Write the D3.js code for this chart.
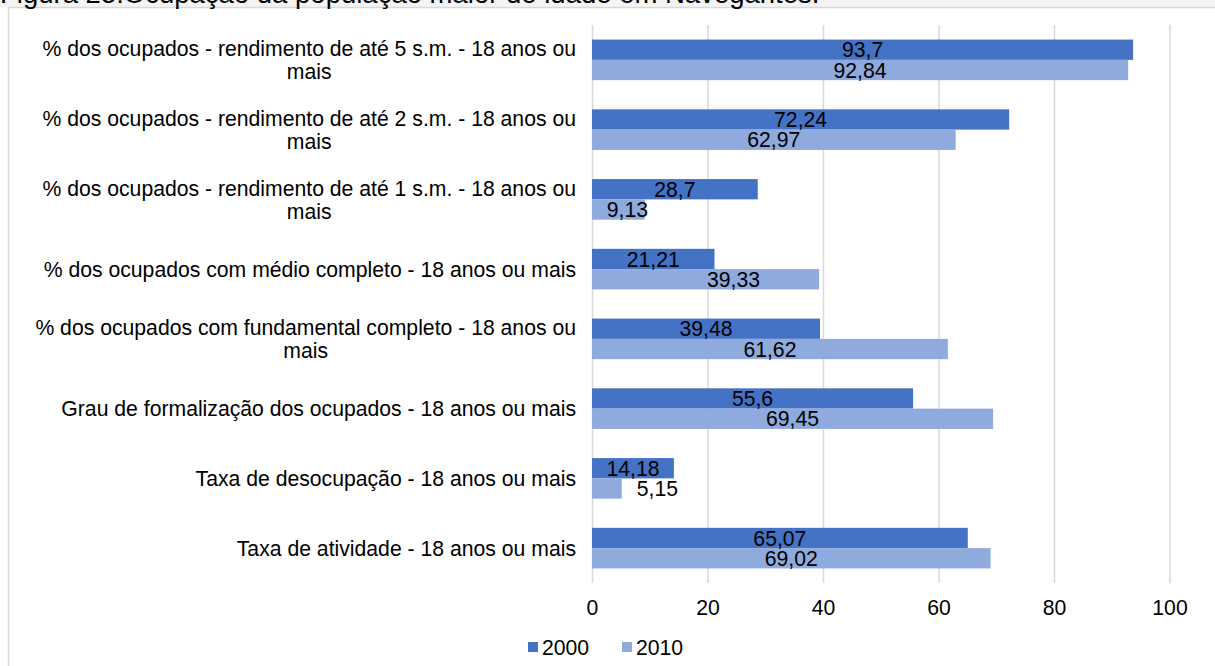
<!DOCTYPE html>
<html>
<head>
<meta charset="utf-8">
<script src="https://cdn.jsdelivr.net/npm/d3@7"></script>
<style>
  html, body { margin: 0; padding: 0; background: #fff; }
  svg { display: block; }
  text { font-family: "Liberation Sans", Arial, sans-serif; fill: #000; }
</style>
</head>
<body>
<svg id="chart" width="1215" height="666"></svg>
<script>
// ---- data ----
const title = "Figura 25:Ocupação da população maior de idade em Navegantes.";
const categories = [
  "% dos ocupados - rendimento de até 5 s.m. - 18 anos ou mais",
  "% dos ocupados - rendimento de até 2 s.m. - 18 anos ou mais",
  "% dos ocupados - rendimento de até 1 s.m. - 18 anos ou mais",
  "% dos ocupados com médio completo - 18 anos ou mais",
  "% dos ocupados com fundamental completo - 18 anos ou mais",
  "Grau de formalização dos ocupados - 18 anos ou mais",
  "Taxa de desocupação - 18 anos ou mais",
  "Taxa de atividade - 18 anos ou mais"
];
const seriesNames = ["2000", "2010"];
const values2000 = [93.7, 72.24, 28.7, 21.21, 39.48, 55.6, 14.18, 65.07];
const values2010 = [92.84, 62.97, 9.13, 39.33, 61.62, 69.45, 5.15, 69.02];
const xTicks = [0, 20, 40, 60, 80, 100];

// ---- layout & style ----
const W = 1215, H = 666;
const FONT = 21.2;
const TITLE_FONT = 27.5;
const colors = { "2000": "#4472c4", "2010": "#8faadc" };
const plot = { left: 592, right: 1169.5, top: 25, bottom: 583 };
const fmt = v => String(v).replace(".", ",");

const svg = d3.select("#chart");

// page strip and chart frame
svg.append("rect").attr("x", 0).attr("y", 0).attr("width", W).attr("height", 7.5).attr("fill", "#f4f4f4");
svg.append("rect").attr("x", 8.5).attr("y", 7.5).attr("width", W).attr("height", H)
  .attr("fill", "#fff").attr("stroke", "#d9d9d9").attr("stroke-width", 1.5);

// caption (runs off the top of the page)
svg.append("text").attr("x", 0).attr("y", 3)
  .attr("font-size", TITLE_FONT).text(title);

const x = d3.scaleLinear().domain([0, 100]).range([plot.left, plot.right]);
const y = d3.scaleBand().domain(categories)
  .range([plot.top, plot.bottom]).paddingInner(0.418).paddingOuter(0.209);
const ySub = d3.scaleBand().domain(seriesNames).range([0, y.bandwidth()]);

// gridlines + tick labels
const axis = d3.axisBottom(x).tickValues(xTicks).tickFormat(d3.format("d"))
  .tickSize(plot.bottom - plot.top).tickPadding(17);
const gAxis = svg.append("g").attr("transform", `translate(0,${plot.top})`).call(axis);
gAxis.select(".domain").remove();
gAxis.selectAll(".tick line").attr("stroke", "#d9d9d9").attr("stroke-width", 1.5);
gAxis.selectAll(".tick text").attr("font-size", FONT)
  .attr("font-family", "'Liberation Sans', Arial, sans-serif").attr("fill", "#000");

// bars
const rows = [];
categories.forEach((c, i) => {
  rows.push({ cat: c, i, s: "2000", v: values2000[i] });
  rows.push({ cat: c, i, s: "2010", v: values2010[i] });
});

svg.append("g").selectAll("rect").data(rows).join("rect")
  .attr("x", x(0))
  .attr("y", d => y(d.cat) + ySub(d.s))
  .attr("width", d => x(d.v) - x(0))
  .attr("height", ySub.bandwidth())
  .attr("fill", d => colors[d.s]);

// value labels: centred in the bar, pushed past the end when the bar is too short
const labelNudge = { "2010-2": 9, "2010-3": 28 };
const gLab = svg.append("g");
rows.forEach(d => {
  const t = gLab.append("text").attr("font-size", FONT).text(fmt(d.v));
  const tw = t.node().getComputedTextLength();
  const bw = x(d.v) - x(0);
  const cy = y(d.cat) + ySub(d.s) + ySub.bandwidth() / 2;
  t.attr("y", cy).attr("dy", "0.36em");
  if (tw + 4 > bw) {
    t.attr("x", x(d.v) + 15).attr("text-anchor", "start");
  } else {
    const nudge = labelNudge[d.s + "-" + d.i] || 0;
    t.attr("x", (x(0) + x(d.v)) / 2 + nudge).attr("text-anchor", "middle");
  }
});

// category labels, wrapped to a fixed width and centred line by line
const wrapWidth = 26.5 * FONT;
const lineGap = 23;
const labelRight = 576;
const gCat = svg.append("g");
categories.forEach(c => {
  const probe = gCat.append("text").attr("font-size", FONT);
  const words = c.split(" ");
  const lines = [];
  let cur = "";
  words.forEach(w => {
    const test = cur ? cur + " " + w : w;
    probe.text(test);
    if (probe.node().getComputedTextLength() > wrapWidth && cur) {
      lines.push(cur); cur = w;
    } else cur = test;
  });
  lines.push(cur);
  const widths = lines.map(l => { probe.text(l); return probe.node().getComputedTextLength(); });
  probe.remove();
  const blockW = d3.max(widths);
  const cx = labelRight - blockW / 2;
  const cyc = y(c) + y.bandwidth() / 2;
  lines.forEach((l, k) => {
    gCat.append("text").attr("font-size", FONT)
      .attr("x", cx).attr("text-anchor", "middle")
      .attr("y", cyc + (k - (lines.length - 1) / 2) * lineGap).attr("dy", "0.36em")
      .text(l);
  });
});

// legend
const legend = svg.append("g");
const legX = [528, 622];
seriesNames.forEach((s, k) => {
  legend.append("rect").attr("x", legX[k]).attr("y", 642).attr("width", 10).attr("height", 10)
    .attr("fill", colors[s]);
  legend.append("text").attr("x", legX[k] + 14).attr("y", 647).attr("dy", "0.36em")
    .attr("font-size", FONT).text(s);
});
</script>
</body>
</html>
